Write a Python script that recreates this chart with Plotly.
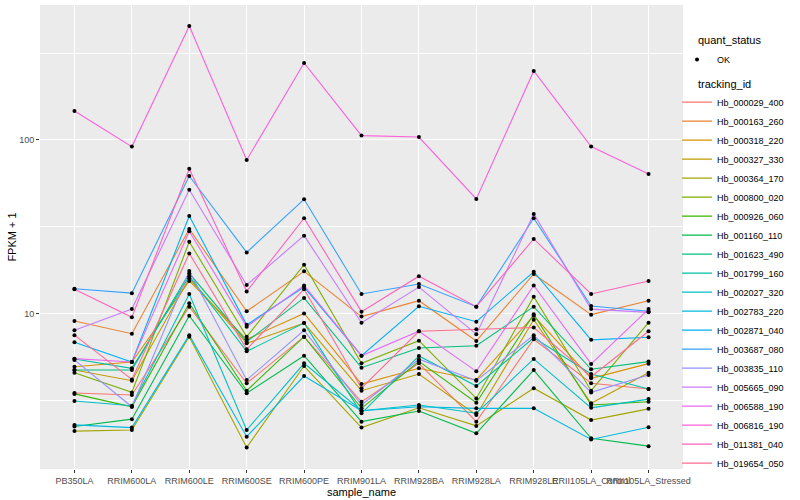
import plotly.graph_objects as go

samples = ["PB350LA", "RRIM600LA", "RRIM600LE", "RRIM600SE", "RRIM600PE", "RRIM901LA",
           "RRIM928BA", "RRIM928LA", "RRIM928LE", "RRII105LA_Control", "RRII105LA_Stressed"]

tracking_ids = ["Hb_000029_400", "Hb_000163_260", "Hb_000318_220", "Hb_000327_330",
                "Hb_000364_170", "Hb_000800_020", "Hb_000926_060", "Hb_001160_110",
                "Hb_001623_490", "Hb_001799_160", "Hb_002027_320", "Hb_002783_220",
                "Hb_002871_040", "Hb_003687_080", "Hb_003835_110", "Hb_005665_090",
                "Hb_006588_190", "Hb_006816_190", "Hb_011381_040", "Hb_019654_050"]

colors = ["#F8766D", "#EA8331", "#D89000", "#C09B00", "#A3A500", "#7CAE00", "#39B600",
          "#00BB4E", "#00BF7D", "#00C1A3", "#00BFC4", "#00BAE0", "#00B0F6", "#35A2FF",
          "#9590FF", "#C77CFF", "#E76BF3", "#FA62DB", "#FF62BC", "#FF6C91"]

# FPKM + 1 values (one list per tracking_id, in sample order)
Hb_000029_400 = [3.48, 3.39, 10.95, 3.96, 7.35, 3.10, 5.16, 2.38, 7.1, 3.96, 3.67]
Hb_000163_260 = [9.05, 7.65, 30.7, 10.3, 17.5, 9.6, 11.85, 6.94, 16.9, 9.85, 11.85]
Hb_000318_220 = [4.93, 5.25, 15.4, 7.1, 10.0, 3.92, 4.83, 4.14, 9.7, 4.23, 5.14]
Hb_000327_330 = [4.72, 4.10, 15.95, 6.73, 8.8, 3.59, 4.48, 2.60, 9.2, 3.04, 4.56]
Hb_000364_170 = [2.10, 2.13, 7.35, 1.69, 4.98, 2.20, 2.86, 2.25, 3.71, 2.43, 2.82]
Hb_000800_020 = [4.56, 3.51, 25.9, 7.35, 19.1, 5.16, 6.97, 3.24, 12.5, 3.59, 8.85]
Hb_000926_060 = [3.44, 2.90, 11.45, 3.59, 7.35, 2.84, 5.30, 3.06, 9.9, 2.97, 3.10]
Hb_001160_110 = [2.23, 2.46, 9.7, 3.47, 5.71, 2.38, 2.74, 2.04, 4.72, 1.91, 1.72]
Hb_001623_490 = [4.72, 4.72, 17.05, 6.88, 12.3, 4.87, 6.33, 6.52, 10.95, 4.77, 5.28]
Hb_001799_160 = [5.47, 4.83, 16.4, 6.05, 8.8, 2.66, 5.69, 3.82, 7.25, 4.48, 3.67]
Hb_002027_320 = [3.13, 2.94, 12.95, 2.13, 5.16, 2.75, 2.97, 2.66, 5.47, 2.86, 3.21]
Hb_002783_220 = [2.28, 2.20, 7.5, 1.95, 4.36, 2.75, 2.90, 2.84, 2.84, 1.88, 2.21]
Hb_002871_040 = [6.82, 5.25, 36.5, 8.6, 14.2, 5.71, 11.0, 8.97, 17.4, 7.05, 7.3]
Hb_003687_080 = [13.9, 13.1, 62.0, 22.5, 45.5, 12.95, 14.8, 10.95, 35.4, 11.05, 10.3]
Hb_003835_110 = [5.40, 2.90, 17.6, 4.14, 8.0, 2.97, 5.45, 4.10, 7.5, 3.51, 4.42]
Hb_005665_090 = [8.0, 10.6, 51.7, 14.6, 28.1, 8.85, 14.2, 7.6, 37.5, 10.6, 10.15]
Hb_006588_190 = [5.49, 5.25, 29.8, 8.4, 14.5, 5.71, 7.9, 4.64, 14.5, 5.12, 10.6]
Hb_006816_190 = [146.9, 91.6, 454.0, 76.7, 278.0, 106.0, 104.0, 45.7, 250.0, 91.6, 63.7]
Hb_011381_040 = [13.8, 9.5, 68.3, 13.4, 35.4, 10.25, 16.4, 10.95, 26.9, 12.95, 15.4]
Hb_019654_050 = [7.5, 4.17, 22.2, 6.22, 13.8, 3.71, 7.9, 8.1, 8.3, 4.32, 7.9]

series = [Hb_000029_400, Hb_000163_260, Hb_000318_220, Hb_000327_330, Hb_000364_170,
          Hb_000800_020, Hb_000926_060, Hb_001160_110, Hb_001623_490, Hb_001799_160,
          Hb_002027_320, Hb_002783_220, Hb_002871_040, Hb_003687_080, Hb_003835_110,
          Hb_005665_090, Hb_006588_190, Hb_006816_190, Hb_011381_040, Hb_019654_050]

y_tickvals = [10, 100]
y_ticktext = ["10", "100"]
y_minor = [10 ** 0.5, 10 ** 1.5, 10 ** 2.5]

FONT = "Liberation Sans"

fig = go.Figure()

for name, vals, col in zip(tracking_ids, series, colors):
    fig.add_trace(go.Scatter(
        x=samples, y=vals, mode="lines", name=name,
        line=dict(color=col, width=1.1),
        legend="legend2", showlegend=True,
    ))

all_x = []
all_y = []
for vals in series:
    all_x.extend(samples)
    all_y.extend(vals)

fig.add_trace(go.Scatter(
    x=all_x, y=all_y, mode="markers", name="OK",
    marker=dict(color="black", size=4, symbol="circle"),
    legend="legend", showlegend=True,
))

fig.update_layout(
    width=800, height=500,
    margin=dict(l=40, r=117, t=5, b=31, autoexpand=False),
    paper_bgcolor="white",
    plot_bgcolor="#EBEBEB",
    font=dict(family=FONT, size=9, color="#4D4D4D"),
    legend=dict(
        x=0.9907, y=0.914, xanchor="left", yanchor="top",
        font=dict(family=FONT, size=9, color="black"),
        bgcolor="rgba(0,0,0,0)",
        itemwidth=30,
    ),
    legend2=dict(
        x=0.9907, y=0.822, xanchor="left", yanchor="top",
        font=dict(family=FONT, size=9, color="black"),
        bgcolor="rgba(0,0,0,0)",
        itemwidth=30,
    ),
    showlegend=True,
    annotations=[
        dict(text="quant_status", xref="paper", yref="paper",
             x=(696 - 40) / 643, y=(469 - 40) / 464, xanchor="left", yanchor="middle",
             showarrow=False, font=dict(family=FONT, size=11, color="black")),
        dict(text="tracking_id", xref="paper", yref="paper",
             x=(696 - 40) / 643, y=(469 - 84) / 464, xanchor="left", yanchor="middle",
             showarrow=False, font=dict(family=FONT, size=11, color="black")),
    ],
)

fig.update_xaxes(
    type="category",
    range=[-0.6, 10.6],
    showgrid=True, gridcolor="white", gridwidth=1.1,
    ticks="outside", ticklen=3, tickcolor="#333333", tickwidth=1,
    tickfont=dict(family=FONT, size=9, color="#4D4D4D"),
    title=dict(text="sample_name", font=dict(family=FONT, size=11, color="black"), standoff=2),
    zeroline=False, showline=False,
    tickangle=0,
)

fig.update_yaxes(
    type="log",
    range=[0.1037, 2.778],
    tickvals=y_tickvals, ticktext=y_ticktext,
    showgrid=True, gridcolor="white", gridwidth=1.1,
    minor=dict(tickvals=y_minor, showgrid=True, gridcolor="white", gridwidth=0.55, ticks=""),
    ticks="outside", ticklen=3, tickcolor="#333333", tickwidth=1,
    tickfont=dict(family=FONT, size=9, color="#4D4D4D"),
    title=dict(text="FPKM + 1", font=dict(family=FONT, size=11, color="black"), standoff=0),
    zeroline=False, showline=False,
)

fig.write_html(
    "out.html",
    config={"displayModeBar": False},
    post_script="document.body.style.margin='0';document.body.style.padding='0';",
)
